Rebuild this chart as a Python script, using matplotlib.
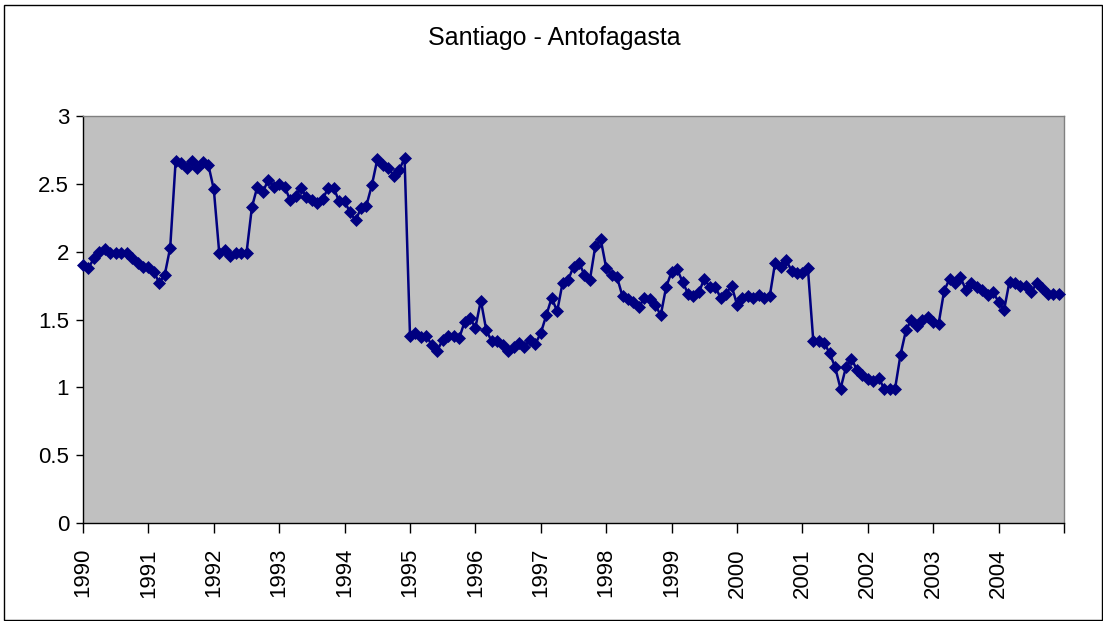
"""
Santiago - Antofagasta monthly series, 1990-2004 (one point per month).
Saves out.png.
"""

import matplotlib
matplotlib.use("Agg")
import matplotlib.pyplot as plt
from matplotlib.patches import Rectangle

plt.rcParams["font.family"] = ["Liberation Sans", "DejaVu Sans"]

# monthly values, Jan..Dec
y1990 = [1.90, 1.88, 1.95, 2.00, 2.02, 1.99, 1.99, 1.99, 1.99, 1.95, 1.92, 1.89]
y1991 = [1.89, 1.85, 1.77, 1.83, 2.03, 2.67, 2.65, 2.62, 2.67, 2.62, 2.66, 2.64]
y1992 = [2.46, 1.99, 2.01, 1.97, 1.99, 1.99, 1.99, 2.33, 2.48, 2.44, 2.53, 2.48]
y1993 = [2.50, 2.48, 2.38, 2.41, 2.47, 2.40, 2.38, 2.36, 2.39, 2.47, 2.47, 2.37]
y1994 = [2.37, 2.29, 2.23, 2.32, 2.34, 2.49, 2.68, 2.64, 2.62, 2.56, 2.60, 2.69]
y1995 = [1.38, 1.40, 1.37, 1.38, 1.31, 1.27, 1.35, 1.38, 1.38, 1.36, 1.48, 1.51]
y1996 = [1.44, 1.64, 1.42, 1.34, 1.34, 1.31, 1.27, 1.30, 1.33, 1.30, 1.35, 1.32]
y1997 = [1.40, 1.53, 1.66, 1.56, 1.77, 1.79, 1.89, 1.92, 1.83, 1.79, 2.04, 2.09]
y1998 = [1.88, 1.83, 1.81, 1.67, 1.65, 1.63, 1.59, 1.66, 1.65, 1.61, 1.53, 1.74]
y1999 = [1.85, 1.87, 1.78, 1.69, 1.67, 1.70, 1.80, 1.74, 1.74, 1.66, 1.69, 1.75]
y2000 = [1.61, 1.66, 1.67, 1.66, 1.68, 1.66, 1.67, 1.92, 1.89, 1.94, 1.86, 1.84]
y2001 = [1.84, 1.88, 1.34, 1.34, 1.33, 1.25, 1.15, 0.99, 1.15, 1.21, 1.13, 1.09]
y2002 = [1.06, 1.05, 1.07, 0.99, 0.99, 0.99, 1.24, 1.42, 1.50, 1.45, 1.50, 1.52]
y2003 = [1.48, 1.47, 1.71, 1.80, 1.77, 1.81, 1.72, 1.77, 1.74, 1.72, 1.68, 1.70]
y2004 = [1.63, 1.57, 1.78, 1.77, 1.75, 1.75, 1.70, 1.77, 1.73, 1.69, 1.69, 1.69]

years = list(range(1990, 2005))
values = (y1990 + y1991 + y1992 + y1993 + y1994 + y1995 + y1996 + y1997
          + y1998 + y1999 + y2000 + y2001 + y2002 + y2003 + y2004)
months = list(range(len(values)))

yticks = [0, 0.5, 1, 1.5, 2, 2.5, 3]
ytick_labels = ["0", "0.5", "1", "1.5", "2", "2.5", "3"]

W, H = 1103, 621
fig = plt.figure(figsize=(W / 100, H / 100), dpi=100)
fig.patch.set_facecolor("white")

# plot area in pixel terms: x 83..1064, y 116..523
ax = fig.add_axes([83 / W, (H - 523) / H, (1064 - 83) / W, (523 - 116) / H])
ax.set_facecolor("#C0C0C0")

ax.plot(months, values, color="#000080", lw=1.8, marker="D", markersize=6.3,
        markerfacecolor="#000080", markeredgecolor="#000080", markeredgewidth=0.5,
        clip_on=False, zorder=3)

ax.set_xlim(0, 12 * len(years))
ax.set_ylim(0, 3)
ax.set_xticks([12 * i for i in range(len(years) + 1)])
ax.set_xticklabels([str(y) for y in years] + [""], rotation=90)
ax.set_yticks(yticks)
ax.set_yticklabels(ytick_labels)

ax.tick_params(axis="x", direction="out", length=7, width=1, pad=11, labelsize=16)
ax.tick_params(axis="y", direction="out", length=5, width=1, pad=5, labelsize=16)

for side in ("left", "bottom"):
    ax.spines[side].set_color("black")
    ax.spines[side].set_linewidth(1)
for side in ("top", "right"):
    ax.spines[side].set_color("#808080")
    ax.spines[side].set_linewidth(1)

fig.text(554 / W, 1 - 38 / H, "Santiago - Antofagasta", ha="center", va="center",
         fontsize=18)

# outer chart frame
fig.patches.append(Rectangle((4 / W, 1 / H), 1098 / W, 615 / H, transform=fig.transFigure,
                             fill=False, edgecolor="black", lw=1))

fig.savefig("out.png", dpi=100)
